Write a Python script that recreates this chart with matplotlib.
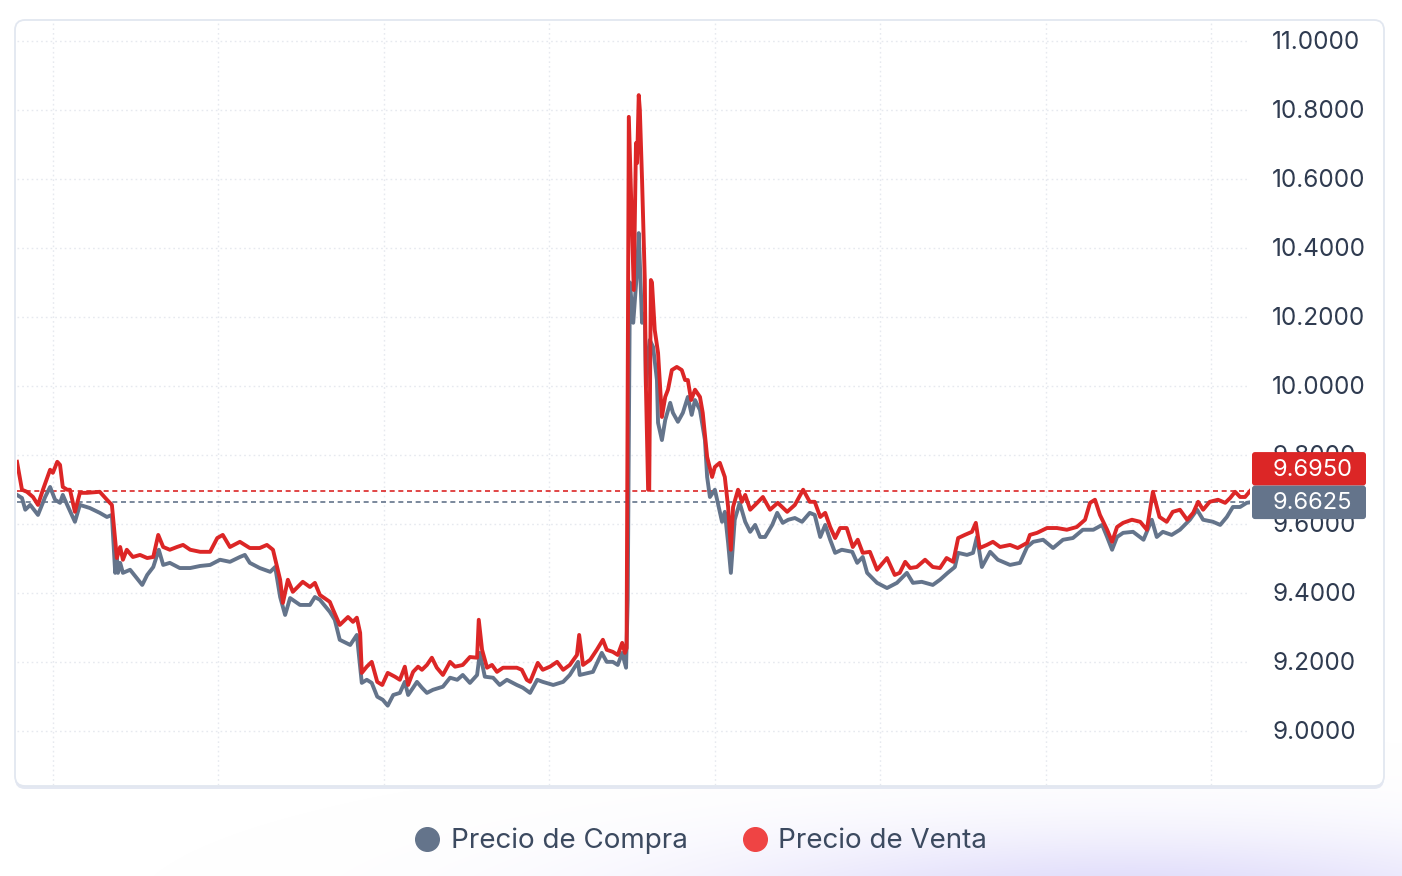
import numpy as np
import matplotlib
matplotlib.use("Agg")
import matplotlib.pyplot as plt
from matplotlib.patches import FancyBboxPatch
from matplotlib.lines import Line2D

plt.rcParams['font.family'] = ['Inter', 'DejaVu Sans']

# ---------------- data ----------------
dias_venta = [
    0, 0.9, 1.8, 2.9, 3.8, 4.7, 6.0, 6.5, 7.3, 7.8,
    8.3, 9.1, 9.6, 10.5, 11.4, 12.7, 15.0, 16.3, 17.2, 17.8,
    18.1, 18.7, 19.2, 19.9, 21.0, 22.3, 23.6, 24.7, 25.6, 26.5,
    27.7, 29.0, 30.1, 31.4, 33.2, 35.0, 36.3, 37.3, 38.6, 40.4,
    42.2, 44.0, 45.3, 46.4, 47.7, 48.2, 49.1, 50.0, 51.8, 53.1,
    54.0, 54.9, 56.7, 57.3, 58.5, 60.0, 60.9, 61.6, 62.2, 62.5,
    63.4, 64.3, 65.3, 66.2, 67.2, 68.5, 69.4, 70.3, 70.9, 71.8,
    72.7, 73.4, 74.3, 75.2, 76.1, 77.2, 78.5, 79.4, 80.8, 82.1,
    83.4, 83.7, 84.3, 85.2, 86.1, 87.0, 88.1, 90.6, 91.5, 92.4,
    93.0, 94.4, 95.3, 96.6, 97.9, 99.0, 100.2, 101.5, 101.9, 102.6,
    103.9, 105.1, 106.2, 106.9, 108.0, 108.9, 109.7, 110.2, 110.5, 110.9,
    111.8, 112.2, 112.4, 112.7, 112.9, 113.3, 113.8, 114.0, 114.4, 114.6,
    114.9, 115.1, 115.6, 116.2, 116.5, 116.9, 117.5, 118.0, 118.7, 119.6,
    120.5, 121.1, 121.6, 122.2, 122.9, 123.8, 124.3, 125.1, 126.0, 126.5,
    127.4, 128.3, 128.9, 129.4, 129.8, 130.7, 131.4, 132.0, 132.9, 133.8,
    134.7, 135.2, 136.5, 137.9, 139.6, 141.0, 142.5, 143.7, 144.6, 145.6,
    146.5, 147.4, 148.3, 149.2, 150.4, 151.5, 152.4, 153.3, 154.6, 155.9,
    157.7, 159.1, 160.0, 161.0, 161.9, 163.1, 164.6, 166.0, 167.3, 168.5,
    169.7, 170.6, 171.8, 173.1, 173.8, 174.5, 175.8, 176.9, 178.2, 180.0,
    181.4, 183.1, 183.6, 184.9, 186.7, 188.5, 190.3, 192.1, 193.6, 194.5,
    195.4, 196.3, 197.6, 198.5, 199.4, 200.5, 202.1, 203.6, 204.8, 205.9,
    207.1, 208.4, 209.5, 210.8, 212.1, 213.2, 214.1, 215.0, 216.2, 217.7,
    219.0, 219.9, 220.8, 221.7, 222.6, 223.5,
]
precio_venta = [
    9.780, 9.699, 9.693, 9.678, 9.655, 9.699, 9.757, 9.748, 9.780, 9.771,
    9.707, 9.699, 9.699, 9.635, 9.690, 9.690, 9.693, 9.670, 9.655, 9.554,
    9.501, 9.533, 9.496, 9.525, 9.504, 9.510, 9.501, 9.504, 9.568, 9.533,
    9.525, 9.533, 9.539, 9.525, 9.519, 9.519, 9.559, 9.568, 9.533, 9.548,
    9.530, 9.530, 9.539, 9.525, 9.438, 9.371, 9.438, 9.403, 9.432, 9.417,
    9.429, 9.394, 9.374, 9.351, 9.307, 9.330, 9.316, 9.328, 9.284, 9.168,
    9.186, 9.200, 9.142, 9.133, 9.168, 9.157, 9.148, 9.186, 9.133, 9.171,
    9.186, 9.177, 9.191, 9.212, 9.183, 9.162, 9.200, 9.186, 9.191, 9.214,
    9.212, 9.322, 9.235, 9.183, 9.191, 9.171, 9.183, 9.183, 9.177, 9.148,
    9.142, 9.197, 9.177, 9.186, 9.200, 9.177, 9.191, 9.220, 9.278, 9.191,
    9.206, 9.235, 9.264, 9.235, 9.229, 9.220, 9.255, 9.226, 9.240, 10.780,
    10.278, 10.704, 10.646, 10.843, 10.800, 10.597, 10.307, 10.000, 9.699, 9.699,
    10.307, 10.300, 10.162, 10.096, 10.017, 9.910, 9.968, 9.989, 10.046, 10.055,
    10.046, 10.017, 10.017, 9.959, 9.989, 9.968, 9.922, 9.794, 9.736, 9.765,
    9.777, 9.736, 9.649, 9.525, 9.649, 9.699, 9.664, 9.684, 9.641, 9.655,
    9.670, 9.678, 9.641, 9.661, 9.635, 9.655, 9.699, 9.664, 9.664, 9.620,
    9.632, 9.591, 9.559, 9.588, 9.588, 9.533, 9.554, 9.516, 9.519, 9.467,
    9.501, 9.452, 9.458, 9.490, 9.472, 9.475, 9.496, 9.475, 9.472, 9.501,
    9.490, 9.559, 9.568, 9.577, 9.603, 9.530, 9.539, 9.548, 9.533, 9.539,
    9.530, 9.545, 9.568, 9.574, 9.588, 9.588, 9.583, 9.591, 9.612, 9.661,
    9.670, 9.626, 9.583, 9.548, 9.591, 9.603, 9.612, 9.606, 9.583, 9.693,
    9.620, 9.606, 9.635, 9.641, 9.612, 9.632, 9.664, 9.641, 9.664, 9.670,
    9.661, 9.675, 9.693, 9.678, 9.678, 9.695,
]

dias_compra = [
    0, 0.9, 1.5, 2.4, 3.8, 5.1, 6.0, 6.9, 7.8, 8.3,
    9.1, 10.5, 11.4, 13.2, 15.0, 16.3, 17.2, 17.8, 18.1, 18.3,
    18.7, 19.2, 20.5, 22.7, 23.6, 24.7, 25.7, 26.5, 27.7, 29.5,
    31.4, 33.2, 35.0, 36.8, 38.6, 40.4, 41.3, 42.2, 44.0, 45.9,
    46.8, 47.7, 48.6, 49.5, 51.3, 53.1, 54.0, 54.9, 56.7, 57.6,
    58.5, 60.4, 61.6, 62.5, 63.4, 64.3, 65.3, 66.3, 67.2, 68.2,
    69.4, 70.3, 70.9, 71.8, 72.5, 73.4, 74.3, 75.4, 77.2, 78.5,
    79.8, 80.8, 82.1, 83.4, 83.9, 84.8, 86.3, 87.5, 88.8, 90.6,
    91.7, 93.0, 94.3, 95.3, 97.2, 99.0, 100.2, 101.7, 102.0, 104.4,
    106.0, 106.9, 108.0, 108.9, 109.7, 110.4, 110.7, 111.1, 111.7, 112.4,
    112.7, 113.3, 113.8, 114.0, 114.7, 115.3, 116.0, 116.2, 116.9, 117.5,
    118.4, 118.9, 119.8, 120.7, 121.6, 122.3, 122.9, 123.8, 124.7, 125.1,
    125.6, 126.5, 127.8, 128.3, 128.9, 129.4, 130.1, 131.0, 132.0, 132.9,
    133.8, 134.7, 135.6, 136.9, 137.8, 138.8, 139.8, 141.0, 142.3, 143.7,
    144.6, 145.6, 146.5, 147.4, 148.3, 149.5, 151.4, 152.3, 153.3, 154.1,
    155.9, 157.7, 159.5, 161.3, 162.4, 164.0, 166.0, 167.3, 168.7, 170.0,
    170.6, 172.2, 173.3, 174.0, 174.9, 176.4, 177.8, 180.0, 181.8, 183.1,
    184.2, 186.0, 187.8, 189.6, 191.4, 193.2, 195.1, 196.7, 197.6, 198.5,
    199.4, 200.5, 202.3, 204.2, 205.7, 206.6, 207.7, 209.3, 210.8, 212.6,
    213.9, 215.0, 216.8, 218.1, 219.3, 220.4, 221.7, 222.9, 223.5,
]
precio_compra = [
    9.684, 9.675, 9.641, 9.655, 9.626, 9.678, 9.707, 9.670, 9.661, 9.684,
    9.655, 9.606, 9.655, 9.646, 9.632, 9.620, 9.626, 9.458, 9.504, 9.458,
    9.487, 9.458, 9.467, 9.423, 9.452, 9.475, 9.525, 9.481, 9.487, 9.472,
    9.472, 9.478, 9.481, 9.496, 9.490, 9.504, 9.510, 9.487, 9.472, 9.461,
    9.475, 9.388, 9.336, 9.385, 9.365, 9.365, 9.388, 9.380, 9.345, 9.322,
    9.264, 9.249, 9.278, 9.139, 9.148, 9.139, 9.099, 9.090, 9.073, 9.104,
    9.110, 9.142, 9.104, 9.125, 9.142, 9.125, 9.110, 9.119, 9.128, 9.154,
    9.148, 9.162, 9.139, 9.162, 9.226, 9.157, 9.154, 9.133, 9.148, 9.133,
    9.125, 9.110, 9.148, 9.142, 9.133, 9.142, 9.162, 9.200, 9.162, 9.171,
    9.226, 9.200, 9.200, 9.191, 9.226, 9.183, 9.380, 10.300, 10.183, 10.336,
    10.443, 10.183, 10.210, 9.997, 10.133, 10.113, 10.017, 9.893, 9.843, 9.901,
    9.951, 9.922, 9.896, 9.922, 9.968, 9.916, 9.959, 9.930, 9.843, 9.736,
    9.678, 9.699, 9.606, 9.635, 9.545, 9.458, 9.612, 9.661, 9.606, 9.577,
    9.597, 9.562, 9.562, 9.597, 9.632, 9.603, 9.612, 9.617, 9.606, 9.632,
    9.626, 9.562, 9.597, 9.554, 9.516, 9.525, 9.519, 9.487, 9.504, 9.458,
    9.429, 9.414, 9.429, 9.458, 9.429, 9.432, 9.423, 9.438, 9.458, 9.475,
    9.516, 9.510, 9.516, 9.562, 9.475, 9.519, 9.496, 9.481, 9.487, 9.533,
    9.548, 9.554, 9.530, 9.554, 9.559, 9.583, 9.583, 9.597, 9.562, 9.525,
    9.562, 9.574, 9.577, 9.554, 9.612, 9.562, 9.577, 9.568, 9.583, 9.612,
    9.641, 9.612, 9.606, 9.597, 9.620, 9.649, 9.649, 9.661, 9.6625,
]

ultimo_venta = 9.6950
ultimo_compra = 9.6625
y_ticks = [9.0, 9.2, 9.4, 9.6, 9.8, 10.0, 10.2, 10.4, 10.6, 10.8, 11.0]
y_tick_labels = ["9.0000", "9.2000", "9.4000", "9.6000", "9.8000", "10.0000",
                 "10.2000", "10.4000", "10.6000", "10.8000", "11.0000"]
x_grid_days = [6.5, 36.5, 66.5, 96.5, 126.5, 156.5, 186.5, 216.5]
series_labels = ["Precio de Compra", "Precio de Venta"]

# ---------------- style ----------------
C_COMPRA = "#64748b"
C_VENTA = "#dc2626"
C_VENTA_LEG = "#ef4444"
C_TEXT = "#2f3b50"
C_GRID = "#e6e9ef"

W, H = 1402, 876
fig = plt.figure(figsize=(W / 100, H / 100), dpi=100)
fig.patch.set_facecolor("white")

# background / decoration axes in pixel coordinates
bg = fig.add_axes([0, 0, 1, 1], zorder=-10)
bg.set_xlim(0, W)
bg.set_ylim(H, 0)
bg.axis("off")

yy, xx = np.mgrid[0:H, 0:W]
glow = np.exp(-(((xx - 1130) / 430.0) ** 2 + ((yy - 910) / 75.0) ** 2))
img = np.zeros((H, W, 4))
img[..., 0] = 0.84
img[..., 1] = 0.82
img[..., 2] = 0.98
img[..., 3] = glow * 0.85
bg.imshow(img, extent=(0, W, H, 0), interpolation="bilinear", zorder=0, aspect="auto")

# card shadow + card
bg.add_patch(FancyBboxPatch((15, 22), 1369, 767, boxstyle="round,pad=0,rounding_size=10",
                            fc="#e4e8f2", ec="none", zorder=1))
bg.add_patch(FancyBboxPatch((15, 20), 1369, 766, boxstyle="round,pad=0,rounding_size=10",
                            fc="white", ec="#e2e7f0", lw=1.3, zorder=2))

# main axes
ax_l, ax_r, ax_t, ax_b = 17, 1250, 22, 785
ax = fig.add_axes([ax_l / W, (H - ax_b) / H, (ax_r - ax_l) / W, (ax_b - ax_t) / H])
ax.set_facecolor("none")
ax.set_xlim(0, 223.5)
ax.set_ylim(8.843, 11.055)
for s in ax.spines.values():
    s.set_visible(False)
ax.set_xticks(x_grid_days)
ax.set_yticks(y_ticks)
ax.tick_params(length=0, labelbottom=False, labelleft=False)
ax.grid(True, linestyle=(0, (1.2, 2.2)), color=C_GRID, lw=1.0)
ax.set_axisbelow(True)

ax.plot(dias_compra, precio_compra, color=C_COMPRA, lw=2.8, solid_joinstyle="round", zorder=3)
ax.plot(dias_venta, precio_venta, color=C_VENTA, lw=2.8, solid_joinstyle="round", zorder=4)
ax.axhline(ultimo_venta, color=C_VENTA, lw=1.2, ls=(0, (3, 2.2)), zorder=2)
ax.axhline(ultimo_compra, color=C_COMPRA, lw=1.2, ls=(0, (3, 2.2)), zorder=2)

fig.canvas.draw()


def to_px_y(v):
    return H - ax.transData.transform((0, v))[1]


# y tick labels (drawn on the decoration layer)
label_x = 1272
for v, lab in zip(y_ticks, y_tick_labels):
    bg.text(label_x, to_px_y(v) + 2, lab, ha="left", va="center", fontsize=17.5,
            color=C_TEXT, zorder=5)

# last-value badges
bh = 33.5
bx0, bw = 1252, 114
yc_compra = to_px_y(ultimo_compra)
yc_venta = yc_compra - bh
for yc, val, col in [(yc_venta, ultimo_venta, C_VENTA), (yc_compra, ultimo_compra, C_COMPRA)]:
    bg.add_patch(FancyBboxPatch((bx0, yc - bh / 2), bw, bh,
                                boxstyle="round,pad=0,rounding_size=3",
                                fc=col, ec="none", zorder=6))
    bg.text(label_x + 1, yc + 1, f"{val:.4f}", ha="left", va="center", fontsize=17,
            color="white", zorder=7)

# legend
handles = [
    Line2D([], [], marker="o", ls="", markersize=17, color=C_COMPRA),
    Line2D([], [], marker="o", ls="", markersize=17, color=C_VENTA_LEG),
]
fig.legend(handles, series_labels, loc="center", bbox_to_anchor=(0.4995, (H - 841) / H),
           ncol=2, frameon=False, fontsize=20, handletextpad=0.35,
           columnspacing=1.9, labelcolor="#3c4a60", handlelength=1.0)

fig.savefig("out.png", dpi=100, facecolor=fig.get_facecolor())
